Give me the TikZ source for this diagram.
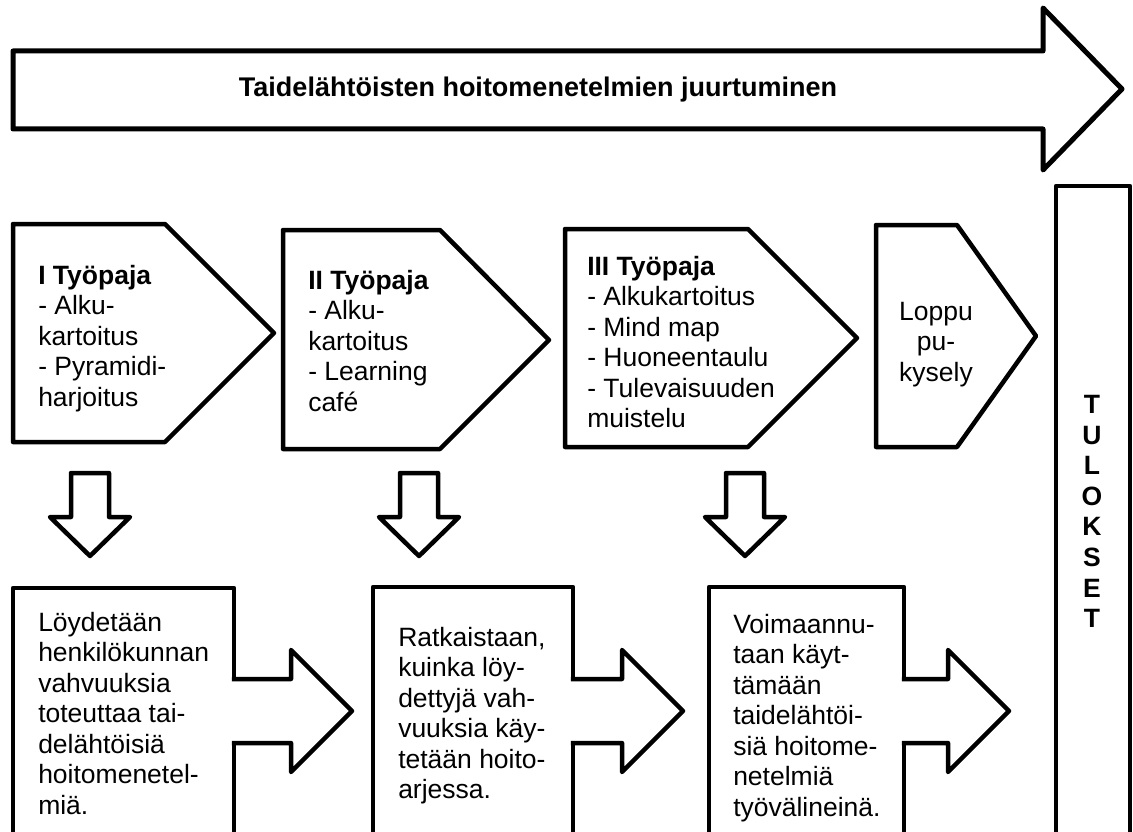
\documentclass[tikz,border=0pt]{standalone}
\usepackage{fontspec}
\setmainfont{Liberation Sans}
\begin{document}
\begin{tikzpicture}[x=1pt,y=-1pt,line width=4.5pt,line join=round,
  shp/.style={draw=black,fill=white},
  txt/.style={anchor=north west,inner sep=0pt,align=left,font=\fontsize{26.5}{30.5}\selectfont},
  ctxt/.style={anchor=north,inner sep=0pt,align=center,font=\fontsize{26.5}{30.5}\selectfont},
  ttl/.style={inner sep=0pt,font=\bfseries\fontsize{27}{30}\selectfont}]
\useasboundingbox (0,0) rectangle (1133,832);
\clip (0,0) rectangle (1133,832);
% top process arrow
\draw[shp,line width=5pt] (13,51) -- (1043,51) -- (1043,8) -- (1122,89) -- (1043,170) -- (1043,129) -- (13,129) -- cycle;
\node[ttl] (title) at (538,90) {Taidelähtöisten hoitomenetelmien juurtuminen};
% workshop pentagons
\draw[shp] (13,224) -- (165,224) -- (274,333) -- (165,442) -- (13,442) -- cycle;
\draw[shp] (283,230) -- (440,230) -- (549,340) -- (440,449) -- (283,449) -- cycle;
\draw[shp] (565,229) -- (748,229) -- (857,338) -- (748,447) -- (565,447) -- cycle;
\draw[shp] (876,225) -- (957,225) -- (1036,336) -- (957,447) -- (876,447) -- cycle;
\node[txt] (w1) at (36,263) {\textbf{I Työpaja}\\- Alku-\\kartoitus\\- Pyramidi-\\harjoitus};
\node[txt] (w2) at (306,268) {\textbf{II Työpaja}\\- Alku-\\kartoitus\\- Learning\\café};
\node[txt] (w3) at (585,254) {\textbf{III Työpaja}\\- Alkukartoitus\\- Mind map\\- Huoneentaulu\\- Tulevaisuuden\\muistelu};
\node[ctxt] (w4) at (936,300) {Loppu\\pu-\\kysely};
% results column
\draw[shp] (1056,186) rectangle (1130,845);
\node[ctxt,font=\bfseries\fontsize{26.5}{30.6}\selectfont] (res) at (1092,393) {T\\U\\L\\O\\K\\S\\E\\T};
% down arrows
\foreach \cx/\nm in {90/d1,419/d2,745/d3}{
  \draw[shp] (\cx-19,473) -- (\cx+19,473) -- (\cx+19,517) -- (\cx+40,517) -- (\cx,556) -- (\cx-40,517) -- (\cx-19,517) -- cycle;
}
% bottom boxes
\draw[shp] (13,588) rectangle (234,845);
\draw[shp] (373,587) rectangle (573,845);
\draw[shp] (709,587) rectangle (904,845);
\node[txt] (b1) at (36,610) {Löydetään\\henkilökunnan\\vahvuuksia\\toteuttaa tai-\\delähtöisiä\\hoitomenetel-\\miä.};
\node[txt] (b2) at (396,625) {Ratkaistaan,\\kuinka löy-\\dettyjä vah-\\vuuksia käy-\\tetään hoito-\\arjessa.};
\node[txt] (b3) at (731,612) {Voimaannu-\\taan käyt-\\tämään\\taidelähtöi-\\siä hoitome-\\netelmiä\\työvälineinä.};
% right arrows out of the bottom boxes
\foreach \xr/\xb in {234/291,573/622,904/948}{
  \fill[white] (\xr-2.5,679) -- (\xb,679) -- (\xb,650) -- (\xb+61,711) -- (\xb,772) -- (\xb,743) -- (\xr-2.5,743) -- cycle;
  \draw (\xr-2.25,679) -- (\xb,679) -- (\xb,650) -- (\xb+61,711) -- (\xb,772) -- (\xb,743) -- (\xr-2.25,743);
}
\end{tikzpicture}
\end{document}
